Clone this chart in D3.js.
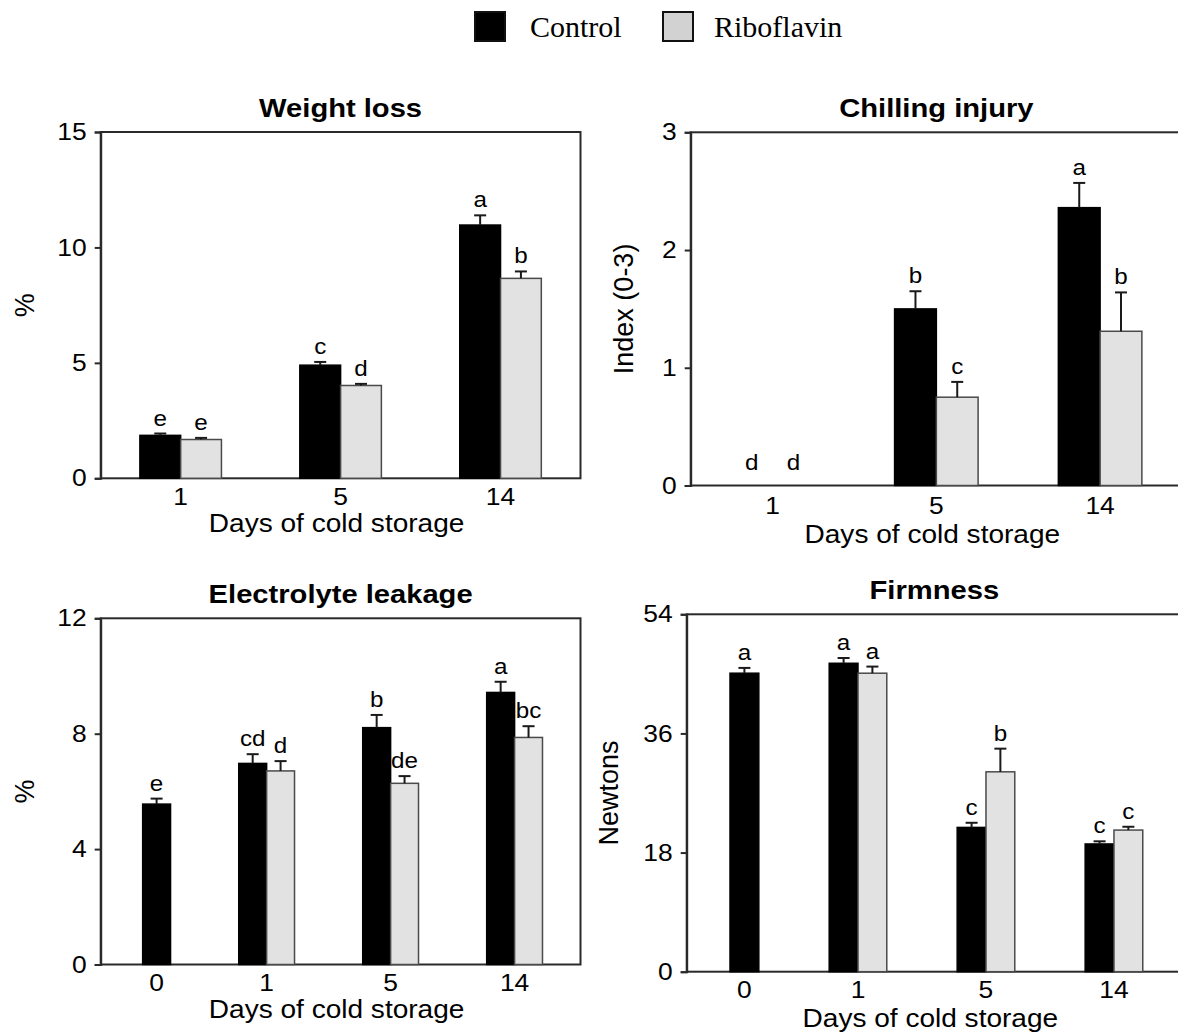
<!DOCTYPE html>
<html><head><meta charset="utf-8">
<script src="https://cdn.jsdelivr.net/npm/d3@7"></script>
<style>body{margin:0;background:#fff} svg{display:block}</style>
</head><body><svg id="c" width="1178" height="1032"></svg>
<script>
// ---------- data ----------
const seriesNames = ["Control", "Riboflavin"];
const days3 = ["1", "5", "14"];
const days4 = ["0", "1", "5", "14"];

const weightControl = [1.86, 4.90, 10.97];
const weightControlErr = [0.08, 0.14, 0.42];
const weightRibo = [1.68, 4.02, 8.66];
const weightRiboErr = [0.07, 0.07, 0.30];
const weightControlLetters = ["e", "c", "a"];
const weightRiboLetters = ["e", "d", "b"];
const weightTicks = [0, 5, 10, 15];

const chillControl = [0, 1.50, 2.36];
const chillControlErr = [0, 0.15, 0.21];
const chillRibo = [0, 0.75, 1.31];
const chillRiboErr = [0, 0.13, 0.33];
const chillControlLetters = ["d", "b", "a"];
const chillRiboLetters = ["d", "c", "b"];
const chillTicks = [0, 1, 2, 3];

const elecControl = [5.56, 6.97, 8.21, 9.43];
const elecControlErr = [0.19, 0.32, 0.44, 0.37];
const elecRibo = [null, 6.71, 6.28, 7.87];
const elecRiboErr = [null, 0.34, 0.25, 0.39];
const elecControlLetters = ["e", "cd", "b", "a"];
const elecRiboLetters = [null, "d", "de", "bc"];
const elecTicks = [0, 4, 8, 12];

const firmControl = [45.1, 46.6, 21.8, 19.3];
const firmControlErr = [0.8, 0.8, 0.7, 0.4];
const firmRibo = [null, 45.1, 30.2, 21.4];
const firmRiboErr = [null, 1.0, 3.5, 0.5];
const firmControlLetters = ["a", "a", "c", "c"];
const firmRiboLetters = [null, "a", "b", "c"];
const firmTicks = [0, 18, 36, 54];

// ---------- layout ----------
const SANS = "'Liberation Sans', Arial, sans-serif";
const SERIF = "'Liberation Serif', 'Times New Roman', serif";
const K = 1.1; // horizontal text stretch of the original figure
const colors = ["#000000", "#e2e2e2"];

const panels = [
  {title: "Weight loss", ylabel: "%", days: days3,
   vals: [weightControl, weightRibo], errs: [weightControlErr, weightRiboErr],
   lets: [weightControlLetters, weightRiboLetters], ticks: weightTicks,
   box: {l: 100.7, r: 580.5, t: 132, b: 478.3}, pi: 0.49, po: 0.245, align: 0.5,
   titleY: 117, tickY: 505, xTitleY: 532, yTitleX: 34},
  {title: "Chilling injury", ylabel: "Index (0-3)", days: days3,
   vals: [chillControl, chillRibo], errs: [chillControlErr, chillRiboErr],
   lets: [chillControlLetters, chillRiboLetters], ticks: chillTicks,
   box: {l: 690.7, r: 1182, t: 132.3, b: 485.5}, pi: 0.49, po: 0.245, align: 0.5,
   titleY: 117, tickY: 514, xTitleY: 543, yTitleX: 633},
  {title: "Electrolyte leakage", ylabel: "%", days: days4,
   vals: [elecControl, elecRibo], errs: [elecControlErr, elecRiboErr],
   lets: [elecControlLetters, elecRiboLetters], ticks: elecTicks,
   box: {l: 100.7, r: 580.5, t: 618.3, b: 964.5}, pi: 0.55, po: 0.21, align: 0.27,
   titleY: 603, tickY: 991, xTitleY: 1018, yTitleX: 34},
  {title: "Firmness", ylabel: "Newtons", days: days4,
   vals: [firmControl, firmRibo], errs: [firmControlErr, firmRiboErr],
   lets: [firmControlLetters, firmRiboLetters], ticks: firmTicks,
   box: {l: 686.7, r: 1182, t: 614.3, b: 971.7}, pi: 0.55, po: 0.21, align: 0.27,
   titleY: 599, tickY: 998, xTitleY: 1027, yTitleX: 618}
];

const svg = d3.select("#c");

function stretch(sel) {
  sel.each(function () {
    const t = d3.select(this);
    const x = +t.attr("x") || 0, y = +t.attr("y") || 0;
    t.attr("transform", `translate(${x},${y}) scale(${K},1) translate(${-x},${-y})`);
  });
}

panels.forEach(p => {
  const g = svg.append("g");
  const B = p.box;
  const x = d3.scaleBand().domain(p.days).range([B.l, B.r])
    .paddingInner(p.pi).paddingOuter(p.po).align(p.align);
  const bw = x.bandwidth() / 2;
  const y = d3.scaleLinear().domain([p.ticks[0], p.ticks[p.ticks.length - 1]]).range([B.b, B.t]);

  // frame (top / right lines)
  g.append("rect").attr("x", B.l).attr("y", B.t).attr("width", B.r - B.l).attr("height", B.b - B.t)
    .attr("fill", "none").attr("stroke", "#2a2a2a").attr("stroke-width", 2);

  // bars
  const bars = [];
  p.days.forEach((d, i) => {
    const present = [0, 1].filter(s => p.vals[s][i] !== null);
    present.forEach(s => {
      const slot = present.length === 1 ? 1 : s;
      bars.push({day: d, s, v: p.vals[s][i], e: p.errs[s][i], l: p.lets[s][i], x0: x(d) + slot * bw});
    });
  });
  g.selectAll("rect.bar").data(bars.filter(b => b.v > 0)).join("rect").attr("class", "bar")
    .attr("x", b => b.x0).attr("width", bw)
    .attr("y", b => y(b.v)).attr("height", b => y(0) - y(b.v))
    .attr("fill", b => colors[b.s])
    .attr("stroke", b => b.s === 0 ? "#000" : "#4a4a4a").attr("stroke-width", 1.5);

  // error bars (upper only)
  const eb = bars.filter(b => b.e > 0);
  g.selectAll("line.err").data(eb).join("line").attr("class", "err")
    .attr("x1", b => b.x0 + bw / 2).attr("x2", b => b.x0 + bw / 2)
    .attr("y1", b => y(b.v)).attr("y2", b => y(b.v + b.e))
    .attr("stroke", "#1a1a1a").attr("stroke-width", 2);
  g.selectAll("line.cap").data(eb).join("line").attr("class", "cap")
    .attr("x1", b => b.x0 + bw / 2 - 6).attr("x2", b => b.x0 + bw / 2 + 6)
    .attr("y1", b => y(b.v + b.e)).attr("y2", b => y(b.v + b.e))
    .attr("stroke", "#1a1a1a").attr("stroke-width", 2);

  // significance letters
  const lt = g.selectAll("text.let").data(bars.filter(b => b.l)).join("text").attr("class", "let")
    .attr("x", b => b.x0 + bw / 2)
    .attr("y", b => Math.min(y(b.v + (b.e || 0)) - 8, y(0) - 15))
    .attr("text-anchor", "middle").attr("font-family", SANS).attr("font-size", 22)
    .text(b => b.l);
  stretch(lt);

  // y axis
  const ya = g.append("g").attr("transform", `translate(${B.l},0)`)
    .call(d3.axisLeft(y).tickValues(p.ticks).tickSize(6).tickPadding(8).tickFormat(d3.format("d")));
  ya.select(".domain").attr("stroke", "#2a2a2a").attr("stroke-width", 2);
  ya.selectAll(".tick line").attr("stroke", "#2a2a2a").attr("stroke-width", 2);
  ya.selectAll(".tick text").attr("font-family", SANS).attr("font-size", 24).attr("fill", "#000");
  stretch(ya.selectAll(".tick text"));

  // x tick labels (centered under bars present)
  const centers = p.days.map(d => {
    const bs = bars.filter(b => b.day === d);
    return {d, c: d3.mean(bs, b => b.x0 + bw / 2)};
  });
  const xt = g.selectAll("text.xt").data(centers).join("text").attr("class", "xt")
    .attr("x", c => c.c).attr("y", p.tickY).attr("text-anchor", "middle")
    .attr("font-family", SANS).attr("font-size", 24).text(c => c.d);
  stretch(xt);

  // titles
  const cx = (B.l + B.r) / 2;
  const tt = g.append("text").attr("x", cx).attr("y", p.titleY).attr("text-anchor", "middle")
    .attr("font-family", SANS).attr("font-weight", "bold").attr("font-size", 26.5).text(p.title);
  stretch(tt);
  const xtitle = g.append("text").attr("x", cx - 4).attr("y", p.xTitleY).attr("text-anchor", "middle")
    .attr("font-family", SANS).attr("font-size", 25.5).text("Days of cold storage");
  stretch(xtitle);
  g.append("text").attr("transform", `translate(${p.yTitleX},${(B.t + B.b) / 2}) rotate(-90)`)
    .attr("text-anchor", "middle").attr("font-family", SANS).attr("font-size", 27).text(p.ylabel);
});

// legend
const leg = svg.append("g");
const legendItems = [{name: seriesNames[0], fill: "#000", sx: 475, tx: 530},
                     {name: seriesNames[1], fill: "#d2d2d2", sx: 663, tx: 714}];
leg.selectAll("rect").data(legendItems).join("rect")
  .attr("x", d => d.sx).attr("y", 12).attr("width", 30).attr("height", 29)
  .attr("fill", d => d.fill).attr("stroke", "#111").attr("stroke-width", 2);
leg.selectAll("text").data(legendItems).join("text")
  .attr("x", d => d.tx).attr("y", 37).attr("font-family", SERIF).attr("font-size", 30)
  .text(d => d.name);
</script></body></html>
